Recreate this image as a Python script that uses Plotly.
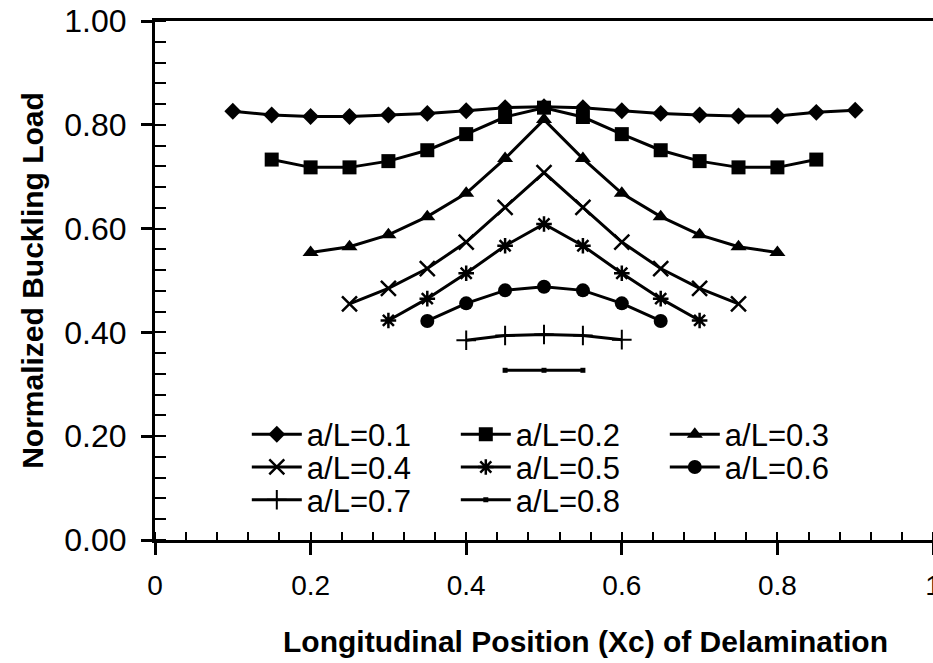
import plotly.graph_objects as go

# longitudinal position of delamination centre (Xc) and normalized buckling load, per a/L
xc_01 = [0.10, 0.15, 0.20, 0.25, 0.30, 0.35, 0.40, 0.45, 0.50, 0.55, 0.60, 0.65, 0.70, 0.75, 0.80, 0.85, 0.90]
load_01 = [0.826, 0.819, 0.816, 0.816, 0.819, 0.822, 0.827, 0.833, 0.835, 0.833, 0.827, 0.822, 0.819, 0.817, 0.817, 0.824, 0.828]

xc_02 = [0.15, 0.20, 0.25, 0.30, 0.35, 0.40, 0.45, 0.50, 0.55, 0.60, 0.65, 0.70, 0.75, 0.80, 0.85]
load_02 = [0.733, 0.718, 0.718, 0.730, 0.751, 0.782, 0.815, 0.833, 0.815, 0.782, 0.751, 0.730, 0.718, 0.718, 0.733]

xc_03 = [0.20, 0.25, 0.30, 0.35, 0.40, 0.45, 0.50, 0.55, 0.60, 0.65, 0.70, 0.75, 0.80]
load_03 = [0.554, 0.565, 0.588, 0.623, 0.668, 0.735, 0.810, 0.735, 0.668, 0.623, 0.588, 0.565, 0.554]

xc_04 = [0.25, 0.30, 0.35, 0.40, 0.45, 0.50, 0.55, 0.60, 0.65, 0.70, 0.75]
load_04 = [0.455, 0.485, 0.523, 0.574, 0.641, 0.708, 0.641, 0.574, 0.523, 0.485, 0.455]

xc_05 = [0.30, 0.35, 0.40, 0.45, 0.50, 0.55, 0.60, 0.65, 0.70]
load_05 = [0.423, 0.465, 0.514, 0.567, 0.609, 0.567, 0.514, 0.465, 0.423]

xc_06 = [0.35, 0.40, 0.45, 0.50, 0.55, 0.60, 0.65]
load_06 = [0.422, 0.456, 0.481, 0.488, 0.481, 0.456, 0.422]

xc_07 = [0.40, 0.45, 0.50, 0.55, 0.60]
load_07 = [0.385, 0.394, 0.396, 0.394, 0.386]

xc_08 = [0.45, 0.50, 0.55]
load_08 = [0.327, 0.327, 0.327]

names = ['a/L=0.1', 'a/L=0.2', 'a/L=0.3', 'a/L=0.4', 'a/L=0.5', 'a/L=0.6', 'a/L=0.7', 'a/L=0.8']
x_ticks = [0, 0.2, 0.4, 0.6, 0.8, 1]
x_tick_text = ['0', '0.2', '0.4', '0.6', '0.8', '1']

FONT = 'Arial, Liberation Sans, Helvetica, sans-serif'

series = [
    (xc_01, load_01, dict(symbol='diamond', size=13), 'legend'),
    (xc_02, load_02, dict(symbol='square', size=14), 'legend'),
    (xc_03, load_03, dict(symbol='triangle-up', size=14), 'legend'),
    (xc_04, load_04, dict(symbol='x-thin-open', size=15, line=dict(width=2.5, color='black')), 'legend2'),
    (xc_05, load_05, dict(symbol='asterisk-open', size=13, line=dict(width=2.5, color='black')), 'legend2'),
    (xc_06, load_06, dict(symbol='circle', size=14), 'legend2'),
    (xc_07, load_07, dict(symbol='cross-thin-open', size=14, line=dict(width=2, color='black')), 'legend3'),
    (xc_08, load_08, dict(symbol='square', size=5), 'legend3'),
]

fig = go.Figure()
for name, (xs, ys, marker, leg) in zip(names, series):
    fig.add_trace(go.Scatter(
        x=xs, y=ys, name=name, mode='lines+markers',
        line=dict(color='black', width=3),
        marker=dict(color='black', **marker),
        legend=leg))

legend_base = dict(
    orientation='h', xanchor='left', yanchor='middle', x=0.118,
    font=dict(family=FONT, size=31, color='black'),
    bgcolor='rgba(0,0,0,0)', entrywidth=144, entrywidthmode='pixels',
    itemwidth=50, tracegroupgap=0)

fig.update_layout(
    width=933, height=663,
    margin=dict(l=155, r=0, t=21, b=123),
    plot_bgcolor='white', paper_bgcolor='white',
    font=dict(family=FONT, size=31, color='black'),
    legend=dict(legend_base, y=0.203),
    legend2=dict(legend_base, y=0.140),
    legend3=dict(legend_base, y=0.077),
    xaxis=dict(
        range=[0, 1], tickvals=x_ticks, ticktext=x_tick_text,
        showgrid=False, zeroline=False,
        showline=True, linecolor='black', linewidth=3, mirror=True,
        ticks='outside', ticklen=12, tickwidth=2.5, tickcolor='black',
        ticklabelstandoff=6, ticklabeloverflow='allow',
        tickfont=dict(size=28),
        minor=dict(dtick=0.04, ticks='inside', ticklen=8, tickwidth=2, tickcolor='black'),
        automargin=False),
    yaxis=dict(
        range=[0, 1], dtick=0.2, tickformat='.2f',
        showgrid=False, zeroline=False,
        showline=True, linecolor='black', linewidth=3,
        ticks='outside', ticklen=11, tickwidth=2.5, tickcolor='black',
        ticklabelstandoff=8,
        tickfont=dict(size=32),
        minor=dict(dtick=0.04, ticks='inside', ticklen=11, tickwidth=2, tickcolor='black'),
        title=dict(text='<b>Normalized Buckling Load</b>', font=dict(size=30), standoff=12),
        automargin=False),
    annotations=[dict(
        text='<b>Longitudinal Position (Xc) of Delamination</b>',
        xref='paper', yref='paper', x=0.553, y=0, xanchor='center', yanchor='middle',
        yshift=-101, showarrow=False, font=dict(family=FONT, size=30, color='black'))],
)

fig.write_html('out.html', config={'displayModeBar': False},
               post_script="document.body.style.margin='0';")
